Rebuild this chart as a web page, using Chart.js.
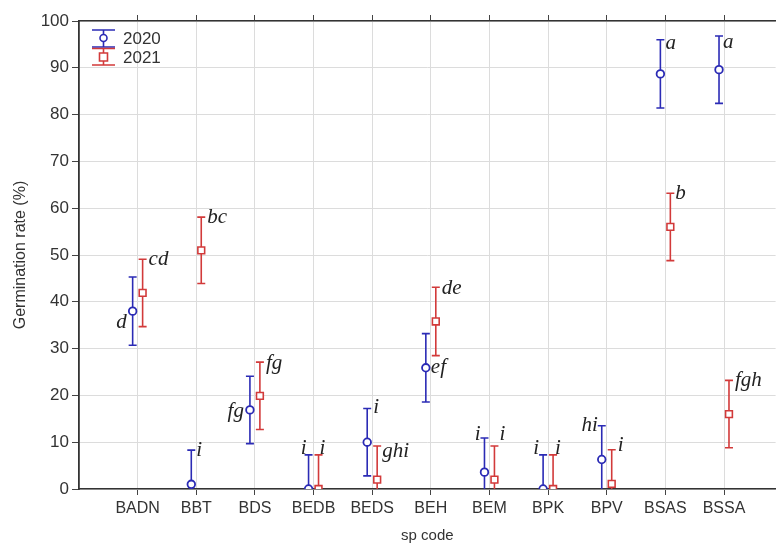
<!DOCTYPE html>
<html>
<head>
<meta charset="utf-8">
<script src="https://cdn.jsdelivr.net/npm/chart.js@4.4.1/dist/chart.umd.min.js"></script>
<style>
  body { margin: 0; background: #fff; overflow: hidden; }
  #wrap { width: 782px; height: 547px; }
</style>
</head>
<body>
<div id="wrap"><canvas id="canvas" width="782" height="547"></canvas></div>
<script>
// categories and values
var codes = ["BADN", "BBT", "BDS", "BEDB", "BEDS", "BEH", "BEM", "BPK", "BPV", "BSAS", "BSSA"];
var rate2020 = [38.0, 1.0, 16.9, 0.0, 10.0, 25.9, 3.6, 0.0, 6.3, 88.7, 89.6];
var err2020 = [7.3, 7.3, 7.2, 7.3, 7.2, 7.3, 7.3, 7.3, 7.2, 7.3, 7.2];
var rate2021 = [41.9, 51.0, 19.9, 0.0, 2.0, 35.8, 2.0, 0.0, 1.1, 56.0, 16.0];
var err2021 = [7.2, 7.1, 7.2, 7.3, 7.2, 7.3, 7.2, 7.3, 7.3, 7.2, 7.2];
var letters2020 = ["d", "i", "fg", "i", "i", "ef", "i", "i", "hi", "a", "a"];
var letters2021 = ["cd", "bc", "fg", "i", "ghi", "de", "i", "i", "i", "b", "fgh"];
var yTicks = [0, 10, 20, 30, 40, 50, 60, 70, 80, 90, 100];

// where each letter sits: anchor (top of bar / point), side, dx, dy in px
var place2020 = [["pt", "L", -6, 11], ["top", "R", 5, 0], ["pt", "L", -6, 2], ["top", "L", -2, -6],
                 ["top", "R", 6, -1], ["pt", "R", 5, 0], ["top", "L", -4, -4], ["top", "L", -4, -6],
                 ["top", "L", -4, 0], ["top", "R", 5, 4], ["top", "R", 4, 7]];
var place2021 = [["top", "R", 6, 0], ["top", "R", 6, 0], ["top", "R", 6, 1], ["top", "R", 1, -6],
                 ["top", "R", 5, 6], ["top", "R", 6, 1], ["top", "R", 5, -11], ["top", "R", 2, -6],
                 ["top", "R", 6, -4], ["top", "R", 5, 0], ["top", "R", 6, 0]];

var blue = "#2b2bb5";
var red = "#d23a3a";
var shift = 0.085;
var narrow = "'Liberation Sans Narrow', 'Arial Narrow', 'Liberation Sans', Arial, sans-serif";

function points(vals, dx) {
    return vals.map(function (v, i) { return { x: i + 1 + dx, y: v }; });
}

function catTicks(scale) {
    scale.ticks = codes.map(function (c, i) { return { value: i + 1 }; });
}

var errorBars = {
    id: "errorBars",
    beforeDatasetsDraw: function (chart) {
        var ctx = chart.ctx, xs = chart.scales.x, ys = chart.scales.y, a = chart.chartArea;
        ctx.save();
        ctx.beginPath();
        ctx.rect(a.left, a.top - 2, a.right - a.left, a.bottom - a.top + 2);
        ctx.clip();
        chart.data.datasets.forEach(function (ds) {
            ctx.strokeStyle = ds.borderColor;
            ctx.lineWidth = 1.6;
            ds.data.forEach(function (p, i) {
                var x = xs.getPixelForValue(p.x);
                var y1 = ys.getPixelForValue(p.y + ds.err[i]);
                var y2 = ys.getPixelForValue(p.y - ds.err[i]);
                ctx.beginPath();
                ctx.moveTo(x, y1); ctx.lineTo(x, y2);
                ctx.moveTo(x - 4, y1); ctx.lineTo(x + 4, y1);
                ctx.moveTo(x - 4, y2); ctx.lineTo(x + 4, y2);
                ctx.stroke();
            });
        });
        ctx.restore();
    },
    afterDatasetsDraw: function (chart) {
        var ctx = chart.ctx, xs = chart.scales.x, ys = chart.scales.y;
        ctx.save();
        // letters
        ctx.font = "italic 21px 'Liberation Serif', 'DejaVu Serif', serif";
        ctx.fillStyle = "#222";
        ctx.textBaseline = "middle";
        chart.data.datasets.forEach(function (ds) {
            ds.data.forEach(function (p, i) {
                var pl = ds.place[i];
                var x = xs.getPixelForValue(p.x);
                var y = pl[0] === "top" ? ys.getPixelForValue(p.y + ds.err[i]) : ys.getPixelForValue(p.y);
                ctx.textAlign = pl[1] === "L" ? "right" : "left";
                ctx.fillText(ds.letters[i], x + pl[2], y + pl[3]);
            });
        });
        // legend
        var lx = 92, items = [[30, 38, 47, "2020", blue, "c"], [48.5, 57, 65, "2021", red, "s"]];
        items.forEach(function (it) {
            ctx.strokeStyle = it[4];
            ctx.lineWidth = 1.6;
            ctx.beginPath();
            ctx.moveTo(lx, it[0]); ctx.lineTo(lx + 23, it[0]);
            ctx.moveTo(lx, it[2]); ctx.lineTo(lx + 23, it[2]);
            ctx.moveTo(lx + 11.5, it[0]); ctx.lineTo(lx + 11.5, it[2]);
            ctx.stroke();
            ctx.fillStyle = "#fff";
            ctx.beginPath();
            if (it[5] === "c") ctx.arc(lx + 11.5, it[1], 3.5, 0, Math.PI * 2);
            else ctx.rect(lx + 7.5, it[1] - 4, 8, 8);
            ctx.fill(); ctx.stroke();
            ctx.fillStyle = "#333";
            ctx.font = "17px " + narrow;
            ctx.textAlign = "left";
            ctx.fillText(it[3], lx + 31, it[1] + 1);
        });
        ctx.restore();
    }
};

var ctx = document.getElementById("canvas").getContext("2d");
var myChart = new Chart(ctx, {
    type: "scatter",
    data: {
        datasets: [{
            label: "2020",
            data: points(rate2020, -shift),
            err: err2020,
            letters: letters2020,
            place: place2020,
            borderColor: blue,
            backgroundColor: "#fff",
            pointStyle: "circle",
            pointRadius: 3.8,
            pointBorderWidth: 1.8
        }, {
            label: "2021",
            data: points(rate2021, shift),
            err: err2021,
            letters: letters2021,
            place: place2021,
            borderColor: red,
            backgroundColor: "#fff",
            pointStyle: "rect",
            pointRadius: 4.8,
            pointBorderWidth: 1.6
        }]
    },
    options: {
        responsive: false,
        animation: false,
        layout: { padding: 0 },
        plugins: { legend: { display: false }, tooltip: { enabled: false } },
        scales: {
            x: {
                type: "linear",
                position: "bottom",
                min: 0,
                max: 11.88,
                afterBuildTicks: catTicks,
                afterFit: function (s) { s.height = 58; },
                grid: { color: "#dcdcdc", lineWidth: 1, tickLength: 6, tickColor: "#444" },
                border: { color: "#333", width: 1.6 },
                ticks: {
                    color: "#333",
                    font: { family: narrow, size: 16 },
                    padding: 4,
                    maxRotation: 0,
                    autoSkip: false,
                    callback: function (v) { return codes[Math.round(v) - 1] || ""; }
                },
                title: {
                    display: true,
                    text: "sp code",
                    color: "#333",
                    font: { family: narrow, size: 15 },
                    padding: { top: 0, bottom: 2 }
                }
            },
            xTop: {
                type: "linear",
                position: "top",
                min: 0,
                max: 11.88,
                afterBuildTicks: catTicks,
                afterFit: function (s) { s.height = 21; },
                grid: { drawOnChartArea: false, tickLength: 6, tickColor: "#444" },
                border: { color: "#333", width: 1.6 },
                ticks: { display: false }
            },
            y: {
                min: 0,
                max: 100,
                afterBuildTicks: function (s) { s.ticks = yTicks.map(function (v) { return { value: v }; }); },
                afterFit: function (s) { s.width = 79; },
                grid: { color: "#dcdcdc", lineWidth: 1, tickLength: 7, tickColor: "#444" },
                border: { color: "#333", width: 1.8 },
                ticks: {
                    color: "#333",
                    font: { family: narrow, size: 17 },
                    padding: 3
                },
                title: {
                    display: true,
                    text: "Germination rate (%)",
                    color: "#333",
                    font: { family: narrow, size: 16 },
                    padding: { top: 11, bottom: 0 }
                }
            }
        }
    },
    plugins: [errorBars]
});
</script>
</body>
</html>
